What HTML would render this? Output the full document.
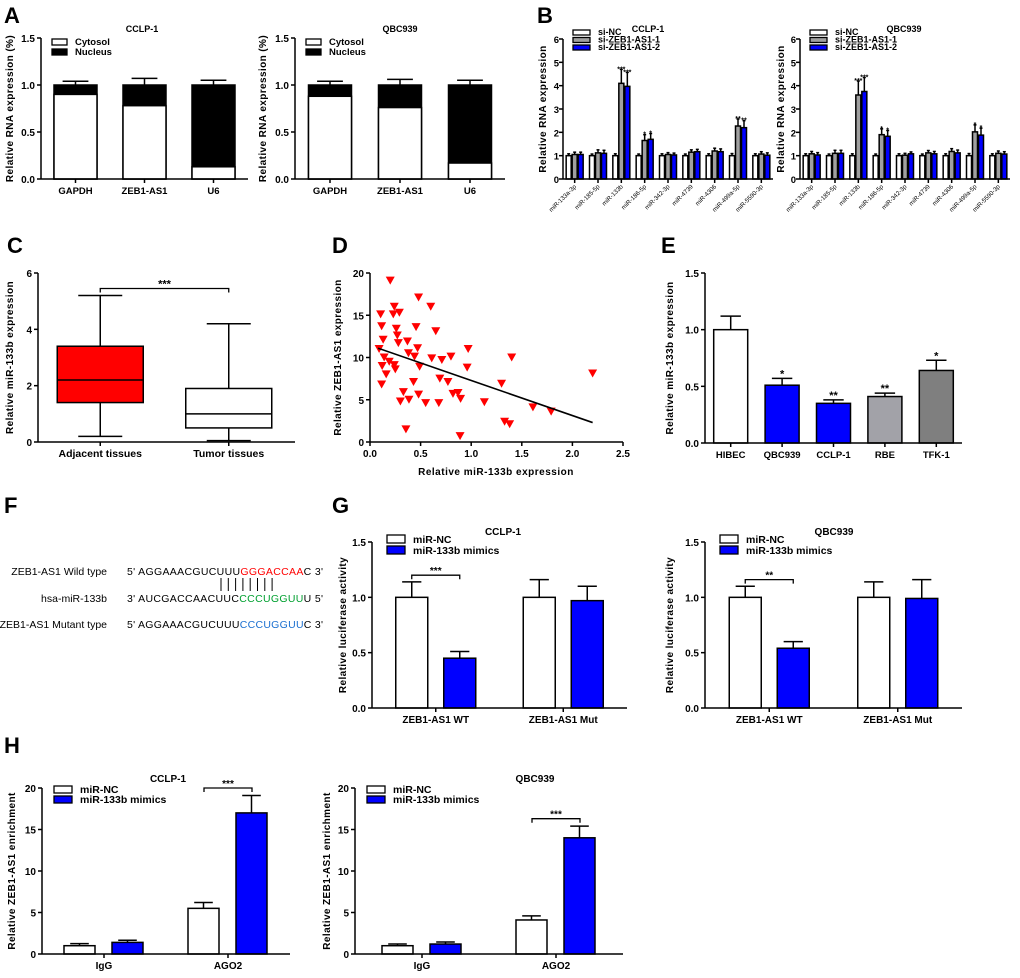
<!DOCTYPE html>
<html><head><meta charset="utf-8"><style>
html,body{margin:0;padding:0;background:#fff;}
svg{display:block;font-family:"Liberation Sans",Arial,sans-serif;}
</style></head><body>
<svg id="fig" width="1020" height="978" viewBox="0 0 1020 978" xmlns="http://www.w3.org/2000/svg">
<g font-size="10.5" fill="#000">
<text x="107" y="575" text-anchor="end">ZEB1-AS1 Wild type</text>
<text x="127" y="575" textLength="196">5' AGGAAACGUCUUU<tspan fill="#ff0000">GGGACCAA</tspan>C 3'</text>
<text x="107" y="602" text-anchor="end">hsa-miR-133b</text>
<text x="127" y="602" textLength="196">3' AUCGACCAACUUC<tspan fill="#00a030">CCCUGGUU</tspan>U 5'</text>
<text x="107" y="628" text-anchor="end">ZEB1-AS1 Mutant type</text>
<text x="127" y="628" textLength="196">5' AGGAAACGUCUUU<tspan fill="#1a6fd0">CCCUGGUU</tspan>C 3'</text>
<g id="pairs" stroke="#000" stroke-width="1"></g>
</g>
</svg>
<script>
// ---------- DATA ----------
const aCats = ["GAPDH","ZEB1-AS1","U6"];
const aCclpCytosol = [0.90,0.78,0.13];
const aCclpErr = [0.04,0.07,0.05];
const aQbcCytosol = [0.88,0.76,0.17];
const aQbcErr = [0.04,0.06,0.05];
const aTicks = [0,0.5,1.0,1.5];
const aTickLabels = ["0.0","0.5","1.0","1.5"];

const bCats = ["miR-133a-3p","miR-185-5p","miR-133b","miR-186-5p","miR-342-3p","miR-4739","miR-4306","miR-499a-5p","miR-5590-3p"];
const bCclpNC = [1,1,1,1,1,1,1,1,1];
const bCclpSi1 = [1.05,1.12,4.10,1.65,1.05,1.15,1.20,2.27,1.07];
const bCclpSi2 = [1.05,1.10,3.97,1.70,1.03,1.17,1.17,2.20,1.02];
const bQbcNC = [1,1,1,1,1,1,1,1,1];
const bQbcSi1 = [1.08,1.10,3.60,1.90,1.02,1.12,1.18,2.02,1.10];
const bQbcSi2 = [1.03,1.10,3.75,1.83,1.08,1.08,1.12,1.88,1.07];
const bErrNC = [0.08,0.07,0.08,0.07,0.08,0.07,0.08,0.09,0.08];
const bErrSi = [0.1,0.13,0.6,0.25,0.08,0.1,0.12,0.3,0.1];
const bTicks = [0,1,2,3,4,5,6];

const cCats = ["Adjacent tissues","Tumor tissues"];
const cMin = [0.2,0.05];
const cQ1 = [1.4,0.5];
const cMed = [2.2,1.0];
const cQ3 = [3.4,1.9];
const cMax = [5.2,4.2];
const cTicks = [0,2,4,6];

const dX = [0.09,0.105,0.115,0.13,0.12,0.14,0.115,0.16,0.19,0.20,0.23,0.24,0.24,0.25,0.26,0.27,0.28,0.29,0.30,0.33,0.355,0.37,0.38,0.385,0.43,0.44,0.455,0.47,0.48,0.49,0.48,0.55,0.60,0.61,0.65,0.68,0.69,0.71,0.77,0.80,0.82,0.87,0.89,0.895,0.96,0.97,1.13,1.30,1.33,1.38,1.40,1.61,1.79,2.20];
const dY = [11.0,15.1,13.7,12.1,9.0,10.0,6.8,8.0,9.5,19.1,15.1,16.0,9.1,8.6,13.4,12.6,11.7,15.3,4.8,5.9,1.5,11.9,10.5,5.0,7.1,10.1,13.6,11.1,17.1,8.9,5.6,4.6,16.0,9.9,13.1,4.6,7.5,9.7,7.1,10.1,5.7,5.8,0.7,5.1,8.8,11.0,4.7,6.9,2.4,2.1,10.0,4.1,3.6,8.1];
const dFitX = [0.08,2.2];
const dFitY = [11.1,2.3];
const dXTicks = [0,0.5,1.0,1.5,2.0,2.5];
const dXLabels = ["0.0","0.5","1.0","1.5","2.0","2.5"];
const dYTicks = [0,5,10,15,20];

const eCats = ["HIBEC","QBC939","CCLP-1","RBE","TFK-1"];
const eVals = [1.0,0.51,0.35,0.41,0.64];
const eErr = [0.12,0.06,0.03,0.03,0.09];
const eSig = ["","*","**","**","*"];
const eColors = ["#ffffff","#0000ff","#0000ff","#a2a2a8","#7f7f7f"];

const gCats = ["ZEB1-AS1 WT","ZEB1-AS1 Mut"];
const gCclpNC = [1.0,1.0];
const gCclpNCErr = [0.14,0.16];
const gCclpMim = [0.45,0.97];
const gCclpMimErr = [0.06,0.13];
const gQbcNC = [1.0,1.0];
const gQbcNCErr = [0.10,0.14];
const gQbcMim = [0.54,0.99];
const gQbcMimErr = [0.06,0.17];

const hCats = ["IgG","AGO2"];
const hCclpNC = [1.0,5.5];
const hCclpNCErr = [0.25,0.7];
const hCclpMim = [1.4,17.0];
const hCclpMimErr = [0.25,2.1];
const hQbcNC = [1.0,4.1];
const hQbcNCErr = [0.2,0.5];
const hQbcMim = [1.2,14.0];
const hQbcMimErr = [0.25,1.4];
const hTicks = [0,5,10,15,20];

// ---------- HELPERS ----------
const NS = "http://www.w3.org/2000/svg";
const svg = document.getElementById("fig");
function mk(tag, attrs, name, parent) {
  const e = document.createElementNS(NS, tag);
  for (const k in attrs) e.setAttribute(k, attrs[k]);
  
  
  (parent || svg).appendChild(e);
  return e;
}
function txt(x, y, s, size, name, parent, extra) {
  const a = Object.assign({x: x, y: y, "font-size": size, "font-weight": "bold", fill: "#000"}, extra || {});
  const t = mk("text", a, name, parent);
  t.textContent = s;
  return t;
}
function line(x1, y1, x2, y2, name, parent, w) {
  return mk("line", {x1: x1, y1: y1, x2: x2, y2: y2, stroke: "#000", "stroke-width": w || 1.5}, name, parent);
}
function scaleLin(d0, d1, r0, r1) { return v => r0 + (v - d0) / (d1 - d0) * (r1 - r0); }

function yAxis(g, x0, y, ticks, labels, title, titleX, yTop, yBot, fs, off) {
  line(x0, yTop, x0, yBot, "y-axis-line", g);
  const o = off || 6;
  ticks.forEach((t, i) => {
    line(x0 - 4, y(t), x0, y(t), "y-tick", g);
    txt(x0 - o, y(t) + 4, labels ? labels[i] : String(t), fs || 10, "y-tick-label", g, {"text-anchor": "end"});
  });
  const cy = (yTop + yBot) / 2;
  txt(titleX, cy, title, 10, "y-axis-title", g, {"text-anchor": "middle", transform: "rotate(-90 " + titleX + " " + cy + ")", "letter-spacing": "0.4"});
}
function xAxis(g, x0, x1, yb, cats, xc, fs, rotate) {
  line(x0, yb, x1, yb, "x-axis-line", g);
  cats.forEach((c, i) => {
    const cx = xc(i);
    line(cx, yb, cx, yb + 4, "x-tick", g);
    if (rotate) {
      txt(cx + 2, yb + 8, c, 6.2, "x-tick-label", g, {"text-anchor": "end", "font-weight": "normal", transform: "rotate(-45 " + (cx + 2) + " " + (yb + 8) + ")"});
    } else {
      txt(cx, yb + 15, c, fs || 10, "x-tick-label", g, {"text-anchor": "middle"});
    }
  });
}
function bar(g, x, w, y, v, err, fill, name) {
  const top = y(v), bot = y(0);
  mk("rect", {x: x, y: top, width: w, height: bot - top, fill: fill, stroke: "#000", "stroke-width": 1.5}, name, g);
  if (err > 0) {
    const cx = x + w / 2, et = y(v + err);
    line(cx, top, cx, et, "error-bar", g);
    line(cx - w * 0.3, et, cx + w * 0.3, et, "error-cap", g);
  }
}
function legend(g, x, y, items, fs, bw, bh, gap) {
  items.forEach((it, i) => {
    const yy = y + i * gap;
    mk("rect", {x: x, y: yy, width: bw, height: bh, fill: it[1], stroke: "#000", "stroke-width": 1.3}, "legend-swatch", g);
    txt(x + bw + 8, yy + bh, it[0], fs, "legend-entry", g);
  });
}
function bracket(g, xa, xb, yy, label, fs) {
  mk("path", {d: "M" + xa + " " + (yy + 4) + " V" + yy + " H" + xb + " V" + (yy + 4), fill: "none", stroke: "#000", "stroke-width": 1.3}, "significance-bracket", g);
  txt((xa + xb) / 2, yy - 1, label, fs || 10, "significance-label", g, {"text-anchor": "middle"});
}
function panelLetter(s, x, y) { txt(x, y, s, 22, "panel-letter-" + s.toLowerCase(), svg); }

// ---------- PANEL A ----------
panelLetter("A", 4, 23);
function drawA(x0, x1, cyt, err, title, titleX, yLabelX, name) {
  const g = mk("g", {}, name);
  const y = scaleLin(0, 1.5, 179, 38);
  const band = (x1 - x0) / aCats.length, bw = 43;
  const xc = i => x0 + band * (i + 0.5);
  yAxis(g, x0, y, aTicks, aTickLabels, "Relative RNA expression (%)", yLabelX, 38, 179);
  aCats.forEach((c, i) => {
    bar(g, xc(i) - bw / 2, bw, y, 1.0, err[i], "#000", "bar-nucleus");
    mk("rect", {x: xc(i) - bw / 2, y: y(cyt[i]), width: bw, height: y(0) - y(cyt[i]), fill: "#fff", stroke: "#000", "stroke-width": 1.5}, "bar-cytosol", g);
  });
  xAxis(g, x0, x1, 179, aCats, xc, 9.5);
  txt(titleX, 32, title, 9, "chart-title", g, {"text-anchor": "middle"});
  legend(g, x0 + 11, 39, [["Cytosol", "#fff"], ["Nucleus", "#000"]], 9.5, 15, 6, 10);
}
drawA(41, 248, aCclpCytosol, aCclpErr, "CCLP-1", 142, 13, "chart-a-cclp1");
drawA(295, 505, aQbcCytosol, aQbcErr, "QBC939", 400, 266, "chart-a-qbc939");

// ---------- PANEL B ----------
panelLetter("B", 537, 23);
function drawB(x0, x1, nc, s1, s2, title, titleX, yLabelX, name) {
  const g = mk("g", {}, name);
  const y = scaleLin(0, 6, 179, 39);
  const band = (x1 - x0) / bCats.length, bw = 5;
  const xc = i => x0 + band * (i + 0.5);
  yAxis(g, x0, y, bTicks, null, "Relative  RNA expression", yLabelX, 39, 179, 9.5, 4);
  bCats.forEach((c, i) => {
    bar(g, xc(i) - 8.5, bw, y, nc[i], bErrNC[i], "#fff", "bar-si-nc");
    bar(g, xc(i) - 2.5, bw, y, s1[i], bErrSi[i], "#a0a0a0", "bar-si-zeb1-as1-1");
    bar(g, xc(i) + 3.5, bw, y, s2[i], bErrSi[i], "#0000ff", "bar-si-zeb1-as1-2");
    const star = s1[i] > 3 ? "***" : s1[i] > 2.1 ? "**" : s1[i] > 1.5 ? "*" : "";
    if (star) {
      txt(xc(i), y(s1[i] + bErrSi[i]) + 2, star, 7, "significance-label", g, {"text-anchor": "middle"});
      txt(xc(i) + 6, y(s2[i] + bErrSi[i]) + 2, star, 7, "significance-label", g, {"text-anchor": "middle"});
    }
  });
  xAxis(g, x0, x1, 179, bCats, xc, 6, true);
  txt(titleX, 32, title, 9, "chart-title", g, {"text-anchor": "middle"});
  legend(g, x0 + 10, 30, [["si-NC", "#fff"], ["si-ZEB1-AS1-1", "#a0a0a0"], ["si-ZEB1-AS1-2", "#0000ff"]], 9, 17, 5, 7.5);
}
drawB(563, 773, bCclpNC, bCclpSi1, bCclpSi2, "CCLP-1", 648, 546, "chart-b-cclp1");
drawB(800, 1010, bQbcNC, bQbcSi1, bQbcSi2, "QBC939", 904, 784, "chart-b-qbc939");

// ---------- PANEL C ----------
panelLetter("C", 7, 253);
(function () {
  const g = mk("g", {}, "chart-c-boxplot");
  const y = scaleLin(0, 6, 442, 273);
  const x0 = 38, x1 = 295, band = (x1 - x0) / 2, bw = 86;
  const xc = i => x0 + band * (i + 0.5) - 2;
  yAxis(g, x0, y, cTicks, null, "Relative miR-133b expression", 13, 273, 442, 10);
  const fills = ["#ff0000", "#ffffff"];
  cCats.forEach((c, i) => {
    const cx = xc(i);
    line(cx, y(cMin[i]), cx, y(cMax[i]), "whisker", g);
    line(cx - 22, y(cMax[i]), cx + 22, y(cMax[i]), "whisker-cap-max", g);
    line(cx - 22, y(cMin[i]), cx + 22, y(cMin[i]), "whisker-cap-min", g);
    mk("rect", {x: cx - bw / 2, y: y(cQ3[i]), width: bw, height: y(cQ1[i]) - y(cQ3[i]), fill: fills[i], stroke: "#000", "stroke-width": 1.5}, "box-" + i, g);
    line(cx - bw / 2, y(cMed[i]), cx + bw / 2, y(cMed[i]), "median-line", g);
  });
  xAxis(g, x0, x1, 442, cCats, xc, 10.5);
  bracket(g, xc(0), xc(1), y(5.45), "***", 11);
})();

// ---------- PANEL D ----------
panelLetter("D", 332, 253);
(function () {
  const g = mk("g", {}, "chart-d-scatter");
  const x = scaleLin(0, 2.5, 370, 623);
  const y = scaleLin(0, 20, 442, 273);
  yAxis(g, 370, y, dYTicks, null, "Relative ZEB1-AS1 expression", 341, 273, 442, 10);
  line(370, 442, 623, 442, "x-axis-line", g);
  dXTicks.forEach((t, i) => {
    line(x(t), 442, x(t), 446, "x-tick", g);
    txt(x(t), 457, dXLabels[i], 10, "x-tick-label", g, {"text-anchor": "middle"});
  });
  txt(496, 475, "Relative miR-133b expression", 10, "x-axis-title", g, {"text-anchor": "middle", "letter-spacing": "0.5"});
  dX.forEach((v, i) => {
    const px = x(v), py = y(dY[i]);
    mk("path", {d: "M" + (px - 4.5) + " " + (py - 4) + " L" + (px + 4.5) + " " + (py - 4) + " L" + px + " " + (py + 4) + " Z", fill: "#ff0000"}, "data-point", g);
  });
  line(x(dFitX[0]), y(dFitY[0]), x(dFitX[1]), y(dFitY[1]), "regression-line", g, 1.6);
})();

// ---------- PANEL E ----------
panelLetter("E", 661, 253);
(function () {
  const g = mk("g", {}, "chart-e-bars");
  const y = scaleLin(0, 1.5, 443, 273);
  const x0 = 705, x1 = 962, band = (x1 - x0) / eCats.length, bw = 34;
  const xc = i => x0 + band * (i + 0.5);
  yAxis(g, x0, y, aTicks, aTickLabels, "Relative miR-133b expression", 673, 273, 443, 10);
  eCats.forEach((c, i) => {
    bar(g, xc(i) - bw / 2, bw, y, eVals[i], eErr[i], eColors[i], "bar-" + c.toLowerCase());
    if (eSig[i]) txt(xc(i), y(eVals[i] + eErr[i]) - 1, eSig[i], 11, "significance-label", g, {"text-anchor": "middle"});
  });
  xAxis(g, x0, x1, 443, eCats, xc, 9.5);
})();

// ---------- PANEL F / G ----------
panelLetter("F", 4, 513);
panelLetter("G", 332, 513);
(function () {
  const p = document.getElementById("pairs");
  for (let k = 0; k < 8; k++) {
    const xx = 221 + k * 7.3;
    const l = document.createElementNS(NS, "line");
    l.setAttribute("x1", xx); l.setAttribute("x2", xx);
    l.setAttribute("y1", 578); l.setAttribute("y2", 591);
    l.setAttribute("stroke", "#000");
    
    
    p.appendChild(l);
  }
})();
function drawG(x0, x1, nc, ncE, mim, mimE, sig, title, titleX, yLabelX, name) {
  const g = mk("g", {}, name);
  const y = scaleLin(0, 1.5, 708, 542);
  const band = (x1 - x0) / 2, bw = 32;
  const xc = i => x0 + band * (i + 0.5);
  yAxis(g, x0, y, aTicks, aTickLabels, "Relative luciferase activity", yLabelX, 542, 708, 10);
  gCats.forEach((c, i) => {
    bar(g, xc(i) - 40, bw, y, nc[i], ncE[i], "#fff", "bar-mir-nc");
    bar(g, xc(i) + 8, bw, y, mim[i], mimE[i], "#0000ff", "bar-mir-133b-mimics");
  });
  xAxis(g, x0, x1, 708, gCats, xc, 10);
  bracket(g, xc(0) - 24, xc(0) + 24, y(nc[0] + ncE[0] + 0.06), sig, 10);
  txt(titleX, 535, title, 10, "chart-title", g, {"text-anchor": "middle"});
  legend(g, x0 + 15, 535, [["miR-NC", "#fff"], ["miR-133b mimics", "#0000ff"]], 10.5, 18, 8, 11);
}
drawG(372, 627, gCclpNC, gCclpNCErr, gCclpMim, gCclpMimErr, "***", "CCLP-1", 503, 346, "chart-g-cclp1");
drawG(705, 962, gQbcNC, gQbcNCErr, gQbcMim, gQbcMimErr, "**", "QBC939", 834, 673, "chart-g-qbc939");

// ---------- PANEL H ----------
panelLetter("H", 4, 753);
function drawH(x0, x1, nc, ncE, mim, mimE, title, titleX, yLabelX, name) {
  const g = mk("g", {}, name);
  const y = scaleLin(0, 20, 954, 788);
  const band = (x1 - x0) / 2, bw = 31;
  const xc = i => x0 + band * (i + 0.5);
  yAxis(g, x0, y, hTicks, null, "Relative  ZEB1-AS1 enrichment", yLabelX, 788, 954, 10);
  hCats.forEach((c, i) => {
    bar(g, xc(i) - 40, bw, y, nc[i], ncE[i], "#fff", "bar-mir-nc");
    bar(g, xc(i) + 8, bw, y, mim[i], mimE[i], "#0000ff", "bar-mir-133b-mimics");
  });
  xAxis(g, x0, x1, 954, hCats, xc, 10);
  bracket(g, xc(1) - 24, xc(1) + 24, y(mim[1] + mimE[1] + 0.9), "***", 10);
  txt(titleX, 782, title, 10, "chart-title", g, {"text-anchor": "middle"});
  legend(g, x0 + 12, 786, [["miR-NC", "#fff"], ["miR-133b mimics", "#0000ff"]], 10.5, 18, 7, 10);
}
drawH(42, 290, hCclpNC, hCclpNCErr, hCclpMim, hCclpMimErr, "CCLP-1", 168, 15, "chart-h-cclp1");
drawH(355, 623, hQbcNC, hQbcNCErr, hQbcMim, hQbcMimErr, "QBC939", 535, 330, "chart-h-qbc939");
</script>
</body></html>
